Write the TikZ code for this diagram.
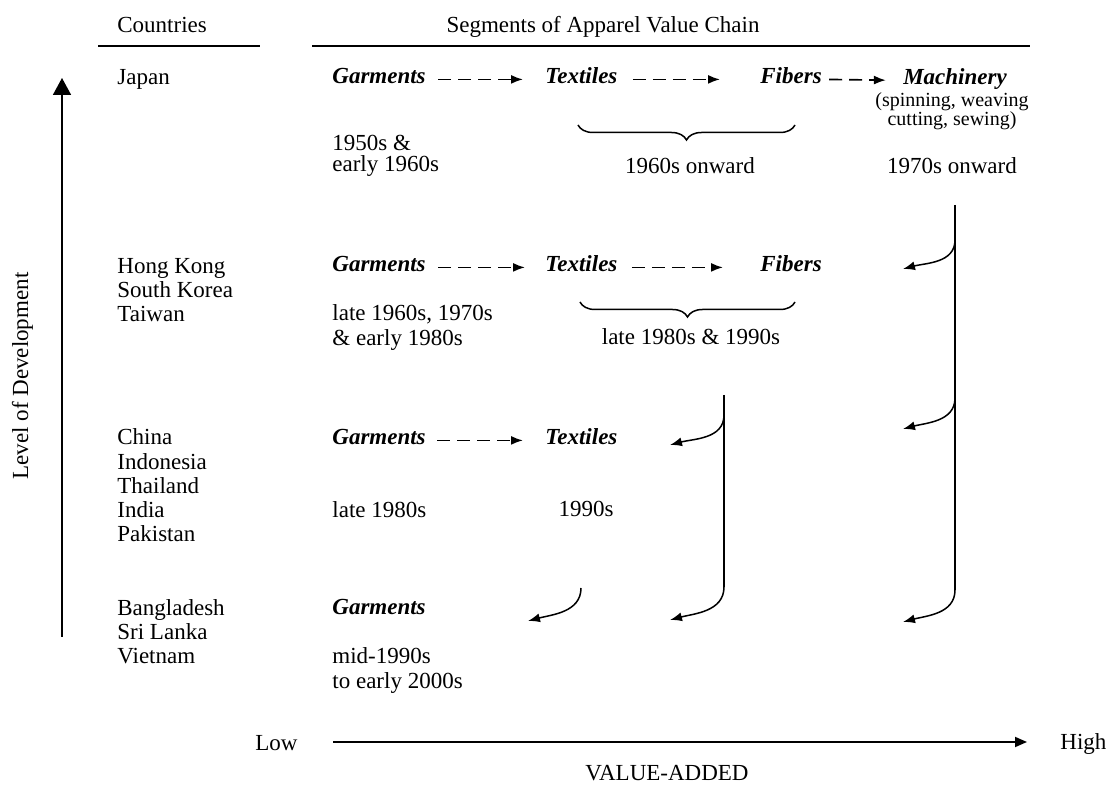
\documentclass[tikz,border=0pt]{standalone}
\usepackage{fontspec}
\setmainfont{Liberation Serif}
\usetikzlibrary{arrows.meta,decorations.pathreplacing}
\begin{document}
\begin{tikzpicture}[x=0.5pt,y=0.5pt,
  txt/.style={inner sep=0pt, anchor=base west, align=left, font=\fontsize{11.5}{12.15}\selectfont},
  ctxt/.style={inner sep=0pt, anchor=base, align=center, font=\fontsize{11.5}{12.15}\selectfont},
  seg/.style={inner sep=0pt, anchor=base west, font=\fontsize{11.5}{12.15}\selectfont\bfseries\itshape},
  note/.style={inner sep=0pt, anchor=base, align=center, font=\fontsize{10}{9.5}\selectfont},
  rule/.style={line width=0.9pt},
  dasharrow/.style={line width=0.85pt, dash pattern=on 6.5pt off 3.5pt, -{Latex[length=6pt,width=4.5pt]}},
  flow/.style={line width=0.8pt},
  turn/.style={line width=0.75pt, -{Latex[length=6pt,width=4.5pt]}},
  span/.style={line width=0.75pt, decorate, decoration={brace, mirror, amplitude=7.5pt}},
]
\useasboundingbox (0,0) rectangle (1110,-785);

% column headings
\node[txt] (hcountries) at (117,-33) {Countries};
\node[ctxt] (hsegments) at (603,-33) {Segments of Apparel Value Chain};
\draw[rule] (98,-46) -- (260,-46);
\draw[rule] (312,-46) -- (1030,-46);

% level of development axis
\coordinate (lvlbot) at (62,-637);
\coordinate (lvltop) at (62,-78);
\draw[line width=0.9pt, -{Triangle[length=8.5pt,width=9pt]}] (lvlbot) -- (lvltop);
\node[ctxt, rotate=90] (lvl) at (28,-376) {Level of Development};

% countries (multi-line nodes sit on the baseline of their last line)
\node[txt] (cjp) at (117,-85) {Japan};
\node[txt] (chk) at (117,-322) {Hong Kong\\South Korea\\Taiwan};
\node[txt] (ccn) at (117,-542) {China\\Indonesia\\Thailand\\India\\Pakistan};
\node[txt] (cbd) at (117,-664) {Bangladesh\\Sri Lanka\\Vietnam};

% Japan
\node[seg] (g1) at (332,-84) {Garments};
\node[seg] (t1) at (545,-84) {Textiles};
\node[seg] (f1) at (760,-84) {Fibers};
\node[seg, anchor=base] (m1) at (955,-85) {Machinery};
\node[note] (m1n) at (952,-126) {(spinning, weaving\\cutting, sewing)};
\draw[dasharrow, shorten <=6pt, shorten >=11pt] (g1.mid east) -- (t1.mid west);
\draw[dasharrow, shorten <=7.5pt, shorten >=20pt] (t1.mid east) -- (f1.mid west);
\draw[dasharrow, shorten <=3.5pt, shorten >=8.5pt] (f1.mid east) -- (m1.mid west);
\node[txt, font=\fontsize{11.5}{10.5}\selectfont] (d1) at (332,-172) {1950s \&\\early 1960s};
\draw[span] (578,-125) -- (795,-125);
\node[ctxt] (d1b) at (690,-174) {1960s onward};
\node[ctxt] (d1c) at (952,-174) {1970s onward};

% Hong Kong, South Korea, Taiwan
\node[seg] (g2) at (332,-272) {Garments};
\node[seg] (t2) at (545,-272) {Textiles};
\node[seg] (f2) at (760,-272) {Fibers};
\draw[dasharrow, shorten <=6pt, shorten >=10pt] (g2.mid east) -- (t2.mid west);
\draw[dasharrow, shorten <=7pt, shorten >=18.5pt] (t2.mid east) -- (f2.mid west);
\node[txt, font=\fontsize{11.5}{12.5}\selectfont] (d2) at (332,-346) {late 1960s, 1970s\\\& early 1980s};
\draw[span] (580,-302) -- (795,-302);
\node[ctxt] (d2b) at (691,-345) {late 1980s \& 1990s};

% China, Indonesia, Thailand, India, Pakistan
\node[seg] (g3) at (332,-445) {Garments};
\node[seg] (t3) at (545,-445) {Textiles};
\draw[dasharrow, shorten <=5.5pt, shorten >=11pt] (g3.mid east) -- (t3.mid west);
\node[txt] (d3) at (332,-518) {late 1980s};
\node[ctxt] (d3b) at (586,-517) {1990s};

% Bangladesh, Sri Lanka, Vietnam
\node[seg] (g4) at (332,-615) {Garments};
\node[txt, font=\fontsize{11.5}{12.5}\selectfont] (d4) at (332,-689) {mid-1990s\\to early 2000s};

% relocation of machinery production
\coordinate (mtop) at (955,-205);
\coordinate (mA) at (955,-240);
\coordinate (mB) at (955,-398);
\coordinate (mC) at (955,-590);
\coordinate (mAt) at (903,-269);
\coordinate (mBt) at (903,-429);
\coordinate (mCt) at (903,-622);
\draw[flow] (mtop) -- (mC);
\draw[turn] (mA) to[out=-90, in=15] (mAt);
\draw[turn] (mB) to[out=-90, in=15] (mBt);
\draw[turn] (mC) to[out=-90, in=15] (mCt);

% relocation of fiber production
\coordinate (ftop) at (724,-395);
\coordinate (fA) at (724,-415);
\coordinate (fB) at (724,-587);
\coordinate (fAt) at (670,-445);
\coordinate (fBt) at (670,-620);
\draw[flow] (ftop) -- (fB);
\draw[turn] (fA) to[out=-90, in=15] (fAt);
\draw[turn] (fB) to[out=-90, in=15] (fBt);

% relocation of textile production
\coordinate (tA) at (581,-588);
\coordinate (tAt) at (528,-621);
\draw[turn] (tA) to[out=-90, in=15] (tAt);

% value-added axis
\node[txt] (low) at (255,-751) {Low};
\node[txt] (high) at (1060,-750) {High};
\coordinate (vaL) at (333,-742);
\coordinate (vaR) at (1027,-742);
\draw[line width=0.9pt, -{Triangle[length=6pt,width=5pt]}] (vaL) -- (vaR);
\node[ctxt] (va) at (667,-781) {VALUE-ADDED};
\end{tikzpicture}
\end{document}
